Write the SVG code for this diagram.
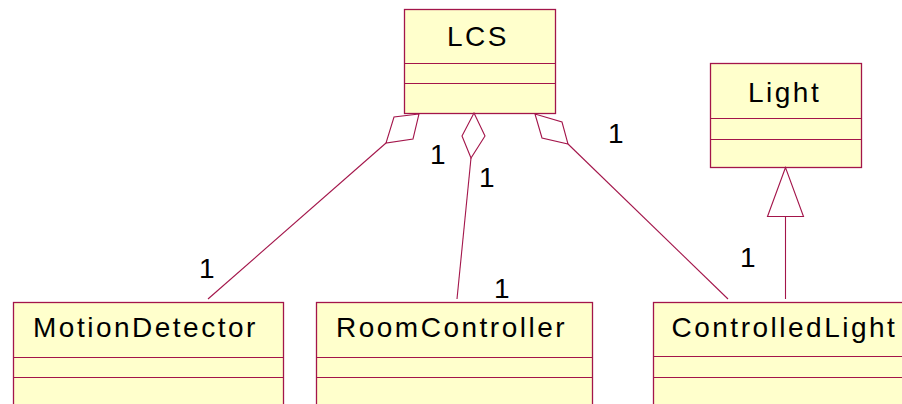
<svg xmlns="http://www.w3.org/2000/svg" width="902" height="404" viewBox="0 0 902 404">
  <style>
    .box { fill: #ffffcc; stroke: #a3154a; stroke-width: 1.3; }
    .sep { stroke: #a3154a; stroke-width: 1.2; fill: none; }
    .name { font-family: "Liberation Sans", Arial, sans-serif; font-size: 28px; letter-spacing: 2.5px; fill: #000; }
    .edge { stroke: #a3154a; stroke-width: 1.1; fill: none; }
    .head { stroke: #a3154a; stroke-width: 1.1; fill: #ffffff; }
    .mult { font-family: "Liberation Sans", Arial, sans-serif; font-size: 28px; fill: #000; }
  </style>

  <!-- class boxes -->
  <g id="LCS">
    <rect class="box" x="404.5" y="9.5" width="151" height="104"/>
    <line class="sep" x1="404.5" y1="63.5" x2="555.5" y2="63.5"/>
    <line class="sep" x1="404.5" y1="83.5" x2="555.5" y2="83.5"/>
    <text class="name" x="447" y="46">LCS</text>
  </g>

  <g id="Light">
    <rect class="box" x="710.5" y="63.5" width="151" height="104"/>
    <line class="sep" x1="710.5" y1="118.5" x2="861.5" y2="118.5"/>
    <line class="sep" x1="710.5" y1="139.5" x2="861.5" y2="139.5"/>
    <text class="name" x="748" y="102">Light</text>
  </g>

  <g id="MotionDetector">
    <rect class="box" x="13.5" y="302.5" width="270" height="120"/>
    <line class="sep" x1="13.5" y1="357.5" x2="283.5" y2="357.5"/>
    <line class="sep" x1="13.5" y1="377.5" x2="283.5" y2="377.5"/>
    <text class="name" x="33" y="337">MotionDetector</text>
  </g>

  <g id="RoomController">
    <rect class="box" x="316.5" y="302.5" width="276" height="120"/>
    <line class="sep" x1="316.5" y1="357.5" x2="592.5" y2="357.5"/>
    <line class="sep" x1="316.5" y1="377.5" x2="592.5" y2="377.5"/>
    <text class="name" x="336" y="337">RoomController</text>
  </g>

  <g id="ControlledLight">
    <rect class="box" x="653.5" y="302.5" width="270" height="120"/>
    <line class="sep" x1="653.5" y1="356.5" x2="923.5" y2="356.5"/>
    <line class="sep" x1="653.5" y1="377.5" x2="923.5" y2="377.5"/>
    <text class="name" x="671.5" y="337">ControlledLight</text>
  </g>

  <!-- aggregations and generalization -->
  <g id="connectors">
    <polyline class="edge" points="386,143 208,299"/>
    <polygon class="head" points="419,114 394,117 386,143 413,139"/>

    <polyline class="edge" points="471,158 457,299"/>
    <polygon class="head" points="474,113 462,136 471,158 485,136"/>

    <polyline class="edge" points="568,144 728,299"/>
    <polygon class="head" points="535,114 542,138 568,144 562,122"/>

    <line class="edge" x1="785.5" y1="216" x2="785.5" y2="299"/>
    <polygon class="head" points="785.5,167.5 767.5,216.5 803.5,216.5"/>
  </g>

  <!-- multiplicities -->
  <g id="multiplicities">
    <text class="mult" x="430" y="164">1</text>
    <text class="mult" x="479" y="187">1</text>
    <text class="mult" x="608" y="143">1</text>
    <text class="mult" x="199" y="278">1</text>
    <text class="mult" x="494" y="298">1</text>
    <text class="mult" x="740" y="267">1</text>
  </g>
</svg>
